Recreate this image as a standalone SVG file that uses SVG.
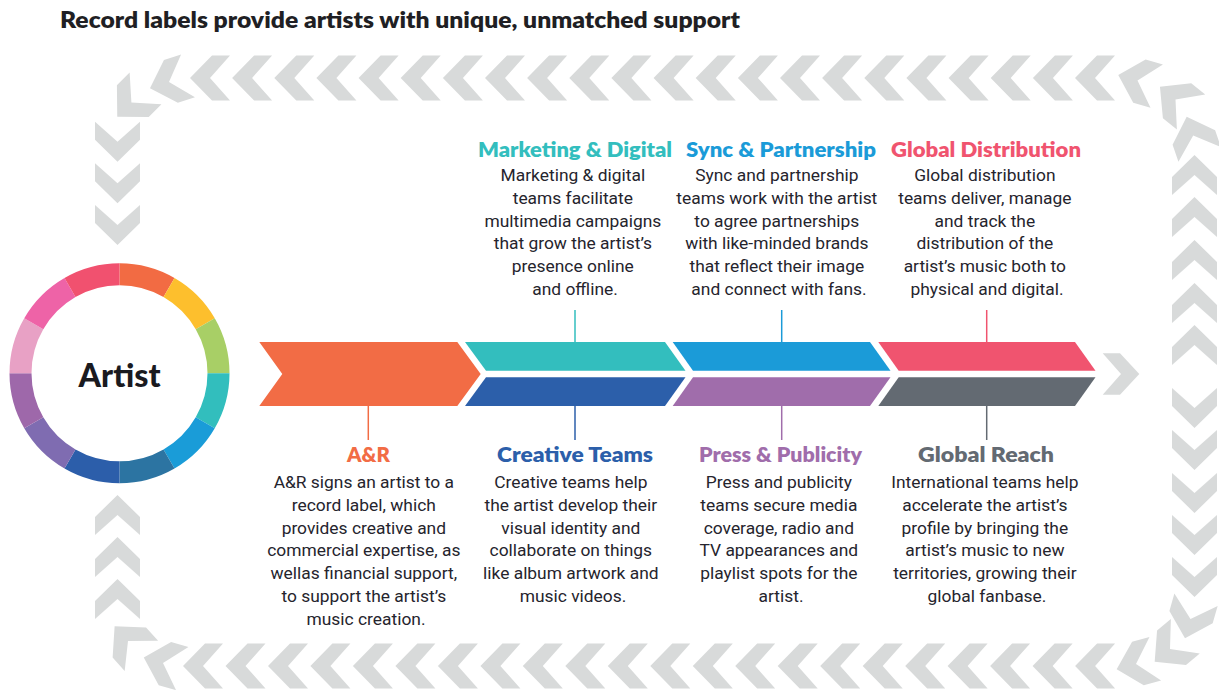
<svg xmlns="http://www.w3.org/2000/svg" width="1219" height="690" viewBox="0 0 1219 690">
  <style>
    .title { font-family: Lato, "Open Sans", sans-serif; font-weight: 800; font-size: 22px; fill: #1f1f24; }
    .head { font-family: Lato, "Open Sans", sans-serif; font-weight: 800; font-size: 20px; text-anchor: middle; }
    .body { font-family: Roboto, "Liberation Sans", sans-serif; font-size: 17.4px; fill: #25242d; text-anchor: middle; }
    .chev { fill: #d8dada; }
    .conn { stroke-width: 1.5; fill: none; }
  </style>
  <defs>
    <!-- single chevron pointing right, centred on the origin -->
    <path id="chev" d="M-20,-22.5 L-2,-22.5 L20,0 L-2,22.5 L-20,22.5 L0,0 Z"/>
  </defs>

  <rect width="1219" height="690" fill="#ffffff"/>

  <text class="title" x="60" y="28" textLength="680" lengthAdjust="spacingAndGlyphs">Record labels provide artists with unique, unmatched support</text>

  <!-- circular chevron frame -->
  <g id="frame" class="chev">
    <!-- top row, heading left -->
    <use href="#chev" transform="translate(210,78) rotate(180)"/>
    <use href="#chev" transform="translate(252.1,78) rotate(180)"/>
    <use href="#chev" transform="translate(294.3,78) rotate(180)"/>
    <use href="#chev" transform="translate(336.4,78) rotate(180)"/>
    <use href="#chev" transform="translate(378.6,78) rotate(180)"/>
    <use href="#chev" transform="translate(420.7,78) rotate(180)"/>
    <use href="#chev" transform="translate(462.9,78) rotate(180)"/>
    <use href="#chev" transform="translate(505,78) rotate(180)"/>
    <use href="#chev" transform="translate(547.1,78) rotate(180)"/>
    <use href="#chev" transform="translate(589.3,78) rotate(180)"/>
    <use href="#chev" transform="translate(631.4,78) rotate(180)"/>
    <use href="#chev" transform="translate(673.6,78) rotate(180)"/>
    <use href="#chev" transform="translate(715.7,78) rotate(180)"/>
    <use href="#chev" transform="translate(757.9,78) rotate(180)"/>
    <use href="#chev" transform="translate(800,78) rotate(180)"/>
    <use href="#chev" transform="translate(842.1,78) rotate(180)"/>
    <use href="#chev" transform="translate(884.3,78) rotate(180)"/>
    <use href="#chev" transform="translate(926.4,78) rotate(180)"/>
    <use href="#chev" transform="translate(968.6,78) rotate(180)"/>
    <use href="#chev" transform="translate(1010.7,78) rotate(180)"/>
    <use href="#chev" transform="translate(1052.9,78) rotate(180)"/>
    <use href="#chev" transform="translate(1095,78) rotate(180)"/>
    <!-- top-left corner and left column, heading down -->
    <use href="#chev" transform="translate(169,82) rotate(162)"/>
    <use href="#chev" transform="translate(131.4,102.6) rotate(135)"/>
    <use href="#chev" transform="translate(117.5,141.7) rotate(90)"/>
    <use href="#chev" transform="translate(117.5,183.3) rotate(90)"/>
    <use href="#chev" transform="translate(117.5,225) rotate(90)"/>
    <!-- bottom row, heading left -->
    <use href="#chev" transform="translate(203,666) rotate(180)"/>
    <use href="#chev" transform="translate(245.5,666) rotate(180)"/>
    <use href="#chev" transform="translate(288,666) rotate(180)"/>
    <use href="#chev" transform="translate(330.4,666) rotate(180)"/>
    <use href="#chev" transform="translate(372.9,666) rotate(180)"/>
    <use href="#chev" transform="translate(415.4,666) rotate(180)"/>
    <use href="#chev" transform="translate(457.9,666) rotate(180)"/>
    <use href="#chev" transform="translate(500.4,666) rotate(180)"/>
    <use href="#chev" transform="translate(542.8,666) rotate(180)"/>
    <use href="#chev" transform="translate(585.3,666) rotate(180)"/>
    <use href="#chev" transform="translate(627.8,666) rotate(180)"/>
    <use href="#chev" transform="translate(670.3,666) rotate(180)"/>
    <use href="#chev" transform="translate(712.8,666) rotate(180)"/>
    <use href="#chev" transform="translate(755.2,666) rotate(180)"/>
    <use href="#chev" transform="translate(797.7,666) rotate(180)"/>
    <use href="#chev" transform="translate(840.2,666) rotate(180)"/>
    <use href="#chev" transform="translate(882.7,666) rotate(180)"/>
    <use href="#chev" transform="translate(925.2,666) rotate(180)"/>
    <use href="#chev" transform="translate(967.6,666) rotate(180)"/>
    <use href="#chev" transform="translate(1010.1,666) rotate(180)"/>
    <use href="#chev" transform="translate(1052.6,666) rotate(180)"/>
    <use href="#chev" transform="translate(1095.1,666) rotate(180)"/>
    <!-- bottom-left corner and left column, heading up -->
    <use href="#chev" transform="translate(163,663) rotate(196)"/>
    <use href="#chev" transform="translate(128,641) rotate(228)"/>
    <use href="#chev" transform="translate(117.5,599) rotate(270)"/>
    <use href="#chev" transform="translate(117.5,557) rotate(270)"/>
    <use href="#chev" transform="translate(117.5,515) rotate(270)"/>
    <!-- right column upper half, heading up, then top-right corner -->
    <use href="#chev" transform="translate(1194.5,345) rotate(270)"/>
    <use href="#chev" transform="translate(1194.5,303) rotate(270)"/>
    <use href="#chev" transform="translate(1194.5,260) rotate(270)"/>
    <use href="#chev" transform="translate(1194.5,217) rotate(270)"/>
    <use href="#chev" transform="translate(1194.5,175) rotate(270)"/>
    <use href="#chev" transform="translate(1193.2,135.6) rotate(251)"/>
    <use href="#chev" transform="translate(1175.5,99.4) rotate(219)"/>
    <use href="#chev" transform="translate(1137.5,80.5) rotate(196)"/>
    <!-- right column lower half, heading down, then bottom-right corner -->
    <use href="#chev" transform="translate(1194.5,408) rotate(90)"/>
    <use href="#chev" transform="translate(1194.5,450) rotate(90)"/>
    <use href="#chev" transform="translate(1194.5,493) rotate(90)"/>
    <use href="#chev" transform="translate(1194.5,535) rotate(90)"/>
    <use href="#chev" transform="translate(1194.5,577) rotate(90)"/>
    <use href="#chev" transform="translate(1190.5,619) rotate(106)"/>
    <use href="#chev" transform="translate(1170,649) rotate(140)"/>
    <use href="#chev" transform="translate(1136,664) rotate(165)"/>
    <!-- arrow at the end of the band -->
    <polygon points="1102.7,353.3 1120,353.3 1139.3,374 1120,394.7 1102.7,394.7 1121,374"/>
  </g>

  <!-- the artist ring -->
  <g id="artist">
    <g transform="translate(119.5,373.3)">
      <path fill="#f26b43" d="M0,-110 A110,110 0 0 1 55,-95.26 L44,-76.21 A88,88 0 0 0 0,-88 Z"/>
      <path fill="#fdbf2d" d="M55,-95.26 A110,110 0 0 1 95.26,-55 L76.21,-44 A88,88 0 0 0 44,-76.21 Z"/>
      <path fill="#a8cf66" d="M95.26,-55 A110,110 0 0 1 110,0 L88,0 A88,88 0 0 0 76.21,-44 Z"/>
      <path fill="#32bebd" d="M110,0 A110,110 0 0 1 95.26,55 L76.21,44 A88,88 0 0 0 88,0 Z"/>
      <path fill="#1a9cd8" d="M95.26,55 A110,110 0 0 1 55,95.26 L44,76.21 A88,88 0 0 0 76.21,44 Z"/>
      <path fill="#2c74a2" d="M55,95.26 A110,110 0 0 1 0,110 L0,88 A88,88 0 0 0 44,76.21 Z"/>
      <path fill="#2c5eaa" d="M0,110 A110,110 0 0 1 -55,95.26 L-44,76.21 A88,88 0 0 0 0,88 Z"/>
      <path fill="#7f6cb1" d="M-55,95.26 A110,110 0 0 1 -95.26,55 L-76.21,44 A88,88 0 0 0 -44,76.21 Z"/>
      <path fill="#9e68aa" d="M-95.26,55 A110,110 0 0 1 -110,0 L-88,0 A88,88 0 0 0 -76.21,44 Z"/>
      <path fill="#e8a1c5" d="M-110,0 A110,110 0 0 1 -95.26,-55 L-76.21,-44 A88,88 0 0 0 -88,0 Z"/>
      <path fill="#ee63a7" d="M-95.26,-55 A110,110 0 0 1 -55,-95.26 L-44,-76.21 A88,88 0 0 0 -76.21,-44 Z"/>
      <path fill="#f1516f" d="M-55,-95.26 A110,110 0 0 1 0,-110 L0,-88 A88,88 0 0 0 -44,-76.21 Z"/>
    </g>
    <text x="119.5" y="386.5" text-anchor="middle" font-family="Lato, 'Open Sans', sans-serif" font-weight="900" font-size="33" fill="#1a1a1f" textLength="82" lengthAdjust="spacingAndGlyphs">Artist</text>
  </g>

  <!-- band segments -->
  <g id="ar">
    <polygon fill="#f26c45" points="259.3,342 457.3,342 480.7,374 457.3,406 259.3,406 282.3,374"/>
    <text class="head" x="368.5" y="462" fill="#f26c45" textLength="43" lengthAdjust="spacingAndGlyphs">A&amp;R</text>
    <text class="body">
      <tspan x="366" y="488">A&amp;R signs an artist to a</tspan>
      <tspan x="366" y="510.8">record label, which</tspan>
      <tspan x="366" y="533.6">provides creative and</tspan>
      <tspan x="366" y="556.4">commercial expertise, as</tspan>
      <tspan x="366" y="579.2">wellas financial support,</tspan>
      <tspan x="366" y="602">to support the artist’s</tspan>
      <tspan x="366" y="624.8">music creation.</tspan>
    </text>
  </g>

  <g id="marketing">
    <polygon fill="#33bebe" points="465,342 665,342 685.5,370.7 486,370.7"/>
    <text class="head" x="575" y="157" fill="#33bebe" textLength="194" lengthAdjust="spacingAndGlyphs">Marketing &amp; Digital</text>
    <text class="body">
      <tspan x="575" y="181">Marketing &amp; digital</tspan>
      <tspan x="575" y="203.8">teams facilitate</tspan>
      <tspan x="575" y="226.6">multimedia campaigns</tspan>
      <tspan x="575" y="249.4">that grow the artist’s</tspan>
      <tspan x="575" y="272.2">presence online</tspan>
      <tspan x="575" y="295">and offline.</tspan>
    </text>
  </g>

  <g id="creative">
    <polygon fill="#2c5faa" points="486,377.3 685.5,377.3 665,406 465,406"/>
    <text class="head" x="575" y="462" fill="#2c5faa" textLength="156" lengthAdjust="spacingAndGlyphs">Creative Teams</text>
    <text class="body">
      <tspan x="573" y="488">Creative teams help</tspan>
      <tspan x="573" y="510.8">the artist develop their</tspan>
      <tspan x="573" y="533.6">visual identity and</tspan>
      <tspan x="573" y="556.4">collaborate on things</tspan>
      <tspan x="573" y="579.2">like album artwork and</tspan>
      <tspan x="573" y="602">music videos.</tspan>
    </text>
  </g>

  <g id="sync">
    <polygon fill="#1b9bd8" points="672.7,342 870,342 890.5,370.7 693,370.7"/>
    <text class="head" x="781" y="157" fill="#1b9bd8" textLength="190" lengthAdjust="spacingAndGlyphs">Sync &amp; Partnership</text>
    <text class="body">
      <tspan x="779" y="181">Sync and partnership</tspan>
      <tspan x="779" y="203.8">teams work with the artist</tspan>
      <tspan x="779" y="226.6">to agree partnerships</tspan>
      <tspan x="779" y="249.4">with like-minded brands</tspan>
      <tspan x="779" y="272.2">that reflect their image</tspan>
      <tspan x="779" y="295">and connect with fans.</tspan>
    </text>
  </g>

  <g id="press">
    <polygon fill="#a06dab" points="693,377.3 890.5,377.3 870,406 672.7,406"/>
    <text class="head" x="780.5" y="462" fill="#a06dab" textLength="163" lengthAdjust="spacingAndGlyphs">Press &amp; Publicity</text>
    <text class="body">
      <tspan x="781" y="488">Press and publicity</tspan>
      <tspan x="781" y="510.8">teams secure media</tspan>
      <tspan x="781" y="533.6">coverage, radio and</tspan>
      <tspan x="781" y="556.4">TV appearances and</tspan>
      <tspan x="781" y="579.2">playlist spots for the</tspan>
      <tspan x="781" y="602">artist.</tspan>
    </text>
  </g>

  <g id="distribution">
    <polygon fill="#f0546f" points="878.3,342 1075,342 1095.5,370.7 898.7,370.7"/>
    <text class="head" x="986" y="157" fill="#f0546f" textLength="190" lengthAdjust="spacingAndGlyphs">Global Distribution</text>
    <text class="body">
      <tspan x="987" y="181">Global distribution</tspan>
      <tspan x="987" y="203.8">teams deliver, manage</tspan>
      <tspan x="987" y="226.6">and track the</tspan>
      <tspan x="987" y="249.4">distribution of the</tspan>
      <tspan x="987" y="272.2">artist’s music both to</tspan>
      <tspan x="987" y="295">physical and digital.</tspan>
    </text>
  </g>

  <g id="reach">
    <polygon fill="#636a72" points="898.7,377.3 1095.5,377.3 1075,406 878.3,406"/>
    <text class="head" x="986" y="462" fill="#636a72" textLength="136" lengthAdjust="spacingAndGlyphs">Global Reach</text>
    <text class="body">
      <tspan x="987" y="488">International teams help</tspan>
      <tspan x="987" y="510.8">accelerate the artist’s</tspan>
      <tspan x="987" y="533.6">profile by bringing the</tspan>
      <tspan x="987" y="556.4">artist’s music to new</tspan>
      <tspan x="987" y="579.2">territories, growing their</tspan>
      <tspan x="987" y="602">global fanbase.</tspan>
    </text>
  </g>

  <!-- leader lines from band segments to their captions -->
  <g id="connectors" class="conn">
    <line x1="575" y1="310" x2="575" y2="342" stroke="#33bebe"/>
    <line x1="575" y1="406" x2="575" y2="440" stroke="#2c5faa"/>
    <line x1="368.3" y1="406" x2="368.3" y2="440" stroke="#f26c45"/>
    <line x1="781.7" y1="310" x2="781.7" y2="342" stroke="#1b9bd8"/>
    <line x1="781.7" y1="406" x2="781.7" y2="440" stroke="#a06dab"/>
    <line x1="986.7" y1="310" x2="986.7" y2="342" stroke="#f0546f"/>
    <line x1="986.7" y1="406" x2="986.7" y2="440" stroke="#636a72"/>
  </g>
</svg>
